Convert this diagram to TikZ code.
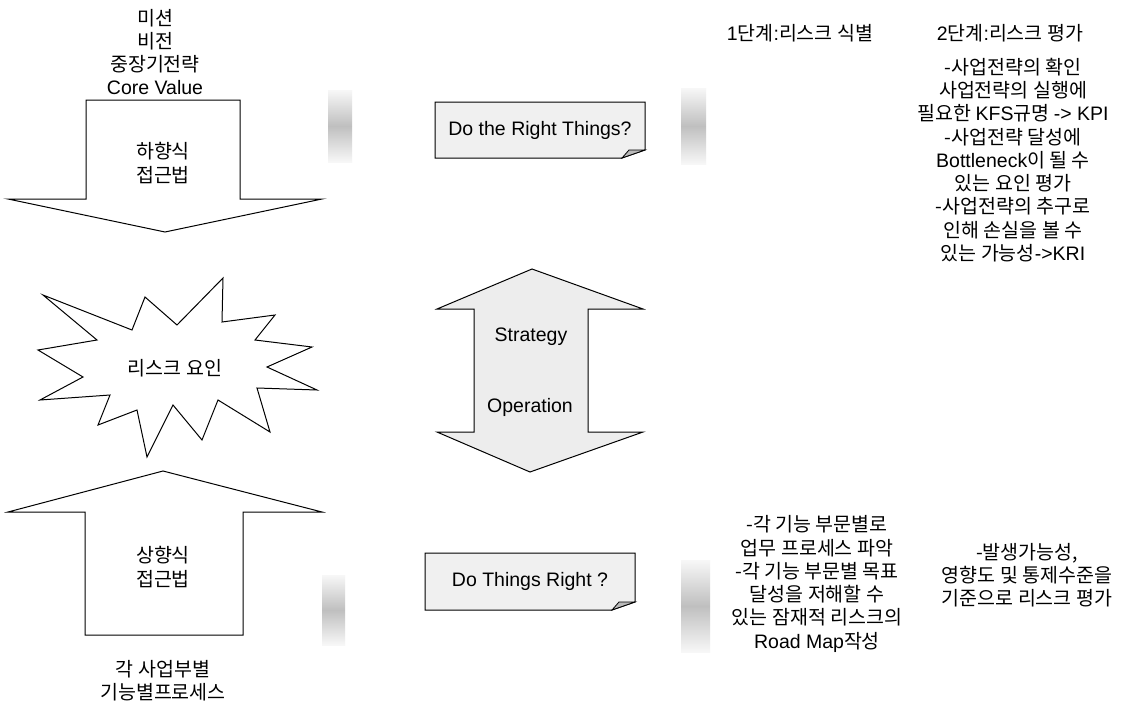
\documentclass[tikz,border=0pt]{standalone}
\usepackage{fontspec}
\setmainfont{Noto Sans CJK KR}
\newfontfamily\lat{Liberation Sans}
\newcommand{\la}[1]{{\lat #1}}
\begin{document}
\begin{tikzpicture}[x=1pt,y=-1pt,
  kor/.style={font=\fontsize{19.5}{23.3}\selectfont, align=center, inner sep=0pt},
  eng/.style={font=\lat\fontsize{19.5}{23}\selectfont, inner sep=0pt},
  outline/.style={draw=black, line width=1pt, line join=miter},
  bigarrow/.style={outline, fill=white},
  grayarrow/.style={outline, fill=gray!14},
  note/.style={outline, fill=gray!12},
  fold/.style={draw=black, line width=0.8pt, fill=gray!55},
  bar/.style={draw=none, top color=gray!6, bottom color=gray!6, middle color=gray!50}]
\useasboundingbox (0,0) rectangle (1127,704);
\fill[white] (0,0) rectangle (1127,704);

% top-down arrow
\draw[bigarrow] (86,100) -- (240,100) -- (240,199) -- (322,199) -- (165,232) -- (8,199) -- (86,199) -- cycle;
\node[kor] (toptext) at (155,52) {미션\\비전\\중장기전략\\\la{Core Value}};
\node[kor] (down) at (163,163) {하향식\\접근법};

% star
\draw[outline, fill=white] (43,295) -- (132,330) -- (145,297) -- (177,325) -- (223,278) -- (222,322) -- (275,315) -- (255,340) -- (312,347) -- (267,367) -- (317,390) -- (257,388) -- (270,432) -- (218,400) -- (202,440) -- (173,405) -- (147,457) -- (137,410) -- (98,425) -- (110,395) -- (40,400) -- (83,377) -- (38,350) -- (97,340) -- cycle;
\node[kor] (risk) at (175,368) {리스크 요인};

% bottom-up arrow
\draw[bigarrow] (163,471) -- (322,512) -- (243,512) -- (243,635) -- (85,635) -- (85,512) -- (8,512) -- cycle;
\node[kor] (up) at (163,567) {상향식\\접근법};
\node[kor] (bottomtext) at (163,681) {각 사업부별\\기능별프로세스};

% central double arrow
\draw[grayarrow] (532,269) -- (643,309) -- (588,309) -- (588,432) -- (643,432) -- (530,472) -- (437,432) -- (474,432) -- (474,309) -- (437,309) -- cycle;
\node[eng] (strategy) at (531,337) {Strategy};
\node[eng] (operation) at (530,407) {Operation};

% gray bars
\fill[bar] (328,90) rectangle (352,162);
\fill[bar] (681,88) rectangle (706,164);
\fill[bar] (322,575) rectangle (345,645);
\fill[bar] (681,560) rectangle (710,652);

% notes
\draw[note] (435,102) -- (645,102) -- (645,150) -- (622,158) -- (435,158) -- cycle;
\draw[fold] (622,158) -- (629,150) -- (645,150) -- cycle;
\node[eng] (rightthings) at (540,130) {Do the Right Things?};
\draw[note] (425,553) -- (635,553) -- (635,602) -- (612,610) -- (425,610) -- cycle;
\draw[fold] (612,610) -- (619,602) -- (635,602) -- cycle;
\node[eng] (thingsright) at (530,581) {Do Things Right ?};

% right texts
\node[kor] (step1) at (800,33) {\la{1}단계\la{:}리스크 식별};
\node[kor] (step2) at (1010,33) {\la{2}단계\la{:}리스크 평가};
\node[kor] (eval) at (1013,160) {-사업전략의 확인\\사업전략의 실행에\\필요한 \la{KFS}규명 \la{-> KPI}\\-사업전략 달성에\\\la{Bottleneck}이 될 수\\있는 요인 평가\\-사업전략의 추구로\\인해 손실을 볼 수\\있는 가능성\la{->KRI}};
\node[kor] (ident2) at (817,584) {-각 기능 부문별로\\업무 프로세스 파악\\-각 기능 부문별 목표\\달성을 저해할 수\\있는 잠재적 리스크의\\\la{Road Map}작성};
\node[kor] (eval2) at (1027,575) {-발생가능성,\\영향도 및 통제수준을\\기준으로 리스크 평가};
\end{tikzpicture}
\end{document}
